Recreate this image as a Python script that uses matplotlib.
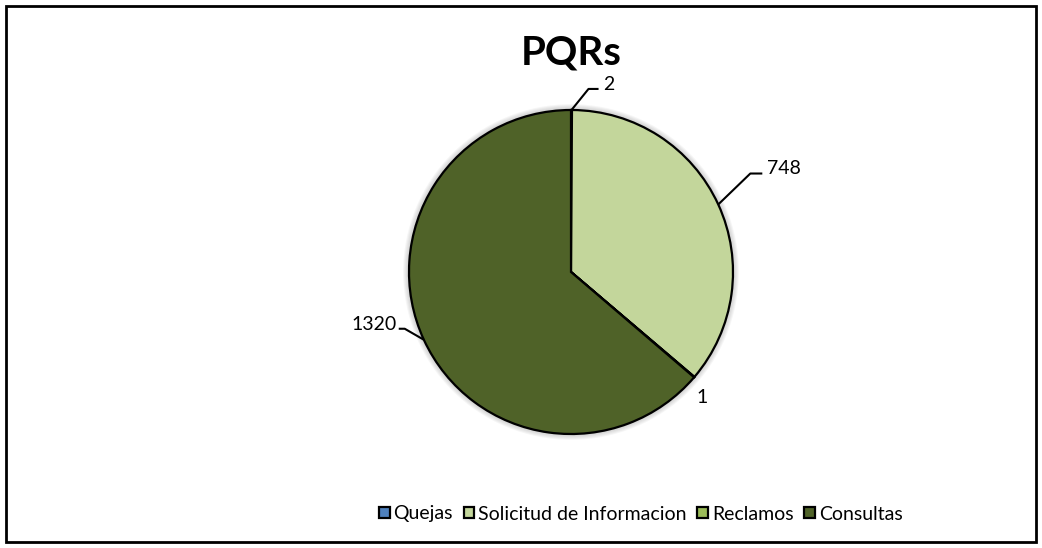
import numpy as np
import matplotlib.pyplot as plt
from matplotlib.patches import Circle, Rectangle

categories = ['Quejas', 'Solicitud de Informacion', 'Reclamos', 'Consultas']
values = [2, 748, 1, 1320]
colors = ['#4F81BD', '#C3D69B', '#9BBB59', '#4F6228']
title = 'PQRs'

plt.rcParams['font.family'] = ['Lato', 'DejaVu Sans']

fig = plt.figure(figsize=(10.42, 5.48), dpi=100)
ax = fig.add_axes([328 / 1042, 33 / 548, 486 / 1042, 486 / 548])

# soft shadow around the pie
for k in range(6):
    ax.add_patch(Circle((0.0, 0.0), 1.0 + 0.006 * (k + 1), color='gray',
                        alpha=0.07, lw=0, zorder=0))

wedges, _ = ax.pie(values, colors=colors, startangle=90, counterclock=False,
                   radius=1.0,
                   wedgeprops=dict(edgecolor='black', linewidth=1.6))
for w in wedges:
    w.set_zorder(2)

# label layout: (elbow offset from edge, horizontal tail length),
# or a plain text offset when there is no leader line
leaders = [((0.105, 0.13), 0.062),
           ((0.198, 0.191), 0.074),
           (0.047, -0.124),
           ((-0.118, 0.068), -0.037)]

total = float(sum(values))
start = 90.0
for val, lead in zip(values, leaders):
    ang = np.deg2rad(start - 360.0 * val / total / 2)
    start -= 360.0 * val / total
    ex, ey = np.cos(ang), np.sin(ang)
    if not isinstance(lead[0], tuple):
        ax.text(ex + lead[0], ey + lead[1], str(val), ha='center',
                va='center', fontsize=14, color='black')
        continue
    (dx, dy), tail = lead
    bx, by = ex + dx, ey + dy
    cx = bx + tail
    ax.plot([ex, bx, cx], [ey, by, by], color='black', lw=1.5, zorder=3,
            solid_capstyle='butt')
    if tail > 0:
        ax.text(cx + 0.03, by - 0.005, str(val), ha='left', va='baseline',
                fontsize=14)
    else:
        ax.text(cx - 0.015, by - 0.005, str(val), ha='right', va='baseline',
                fontsize=14)

ax.set_xlim(-1.5, 1.5)
ax.set_ylim(-1.5, 1.5)
ax.axis('off')

fig.text(571 / 1042, (548 - 53) / 548, title, ha='center', va='center',
         fontsize=29, fontweight='bold')

fig.legend(wedges, categories, loc='center', ncol=4,
           bbox_to_anchor=(0.615, (548 - 514) / 548), frameon=False,
           fontsize=14, handlelength=0.55, handleheight=0.55,
           handletextpad=0.2, columnspacing=0.55)

fig.patches.append(Rectangle((6 / 1042, 6 / 548), 1030 / 1042, 536 / 548,
                             transform=fig.transFigure, fill=False,
                             edgecolor='black', lw=2))

fig.savefig('out.png', dpi=100)
